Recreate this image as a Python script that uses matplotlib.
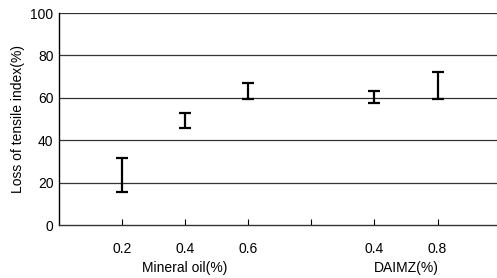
import numpy as np
import matplotlib.pyplot as plt
from matplotlib import transforms

plt.rcParams['font.family'] = ['Liberation Sans', 'DejaVu Sans']

# positions along the x axis (slot 4 is an empty tick between the groups)
positions = [1, 2, 3, 5, 6]
tick_pos = [1, 2, 3, 4, 5, 6]
tick_labels = ['0.2', '0.4', '0.6', '', '0.4', '0.8']
upper = [31.7, 52.7, 67.0, 63.4, 72.3]
lower = [15.7, 45.6, 59.3, 57.4, 59.3]
group_names = ['Mineral oil(%)', 'DAIMZ(%)']
group_centres = [2, 5.5]

fig = plt.figure(figsize=(4.97, 2.78), dpi=100)
ax = fig.add_axes([0.1187, 0.1906, 0.881, 0.7626])

upper = np.array(upper)
lower = np.array(lower)
mid = (upper + lower) / 2
half = (upper - lower) / 2
ax.errorbar(positions, mid, yerr=half, fmt='none', ecolor='black',
            elinewidth=1.6, capsize=4.3, capthick=1.6, zorder=3)

for y in [20, 40, 60, 80, 100]:
    ax.axhline(y, color='#333333', lw=0.9, zorder=1)

ax.set_xlim(0, 6.94)
ax.set_ylim(0, 100)
ax.set_yticks([0, 20, 40, 60, 80, 100])
ax.set_xticks(tick_pos)
ax.set_xticklabels(tick_labels)
ax.tick_params(axis='x', direction='in', length=4, width=0.8, pad=12, labelsize=10)
ax.tick_params(axis='y', length=0, pad=4, labelsize=10)
ax.set_ylabel('Loss of tensile index(%)', fontsize=10, labelpad=4)

for side in ['top', 'right']:
    ax.spines[side].set_visible(False)
ax.spines['left'].set_linewidth(1.0)
ax.spines['bottom'].set_linewidth(1.0)
ax.spines['bottom'].set_color('#333333')

trans = transforms.blended_transform_factory(ax.transData, fig.transFigure)
for name, xc in zip(group_names, group_centres):
    ax.text(xc, 0.035, name, transform=trans, ha='center', va='center', fontsize=10)

fig.savefig('out.png', dpi=100)
